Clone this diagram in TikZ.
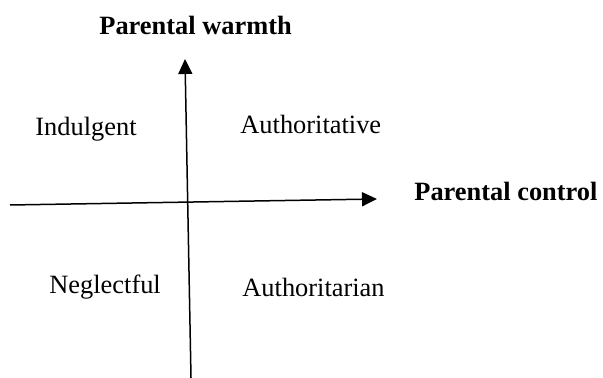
\documentclass[tikz,border=0pt]{standalone}
\usepackage{fontspec}
\setmainfont{Liberation Serif}
\usepackage{tikz}
\usetikzlibrary{arrows.meta,positioning}

\begin{document}
\begin{tikzpicture}[x=0.5pt, y=-0.5pt, every node/.style={font=\fontsize{13.2}{16}\selectfont, inner sep=0pt}, axislabel/.style={anchor=base west, font=\fontsize{13.2}{16}\selectfont\bfseries}, quadrant/.style={anchor=base west}, arrow/.style={-{Triangle[length=7.5pt, width=7pt]}, line width=0.75pt}]
\useasboundingbox (0,0) rectangle (603,378);
\coordinate (cs) at (10,205);
\coordinate (ce) at (377,199);
\coordinate (ws) at (191,378);
\coordinate (we) at (185,59);
\draw[arrow] (cs) -- (ce);
\draw[arrow] (ws) -- (we);
\node[axislabel] (warmth) at (99,35) {Parental warmth};
\node[axislabel] (control) at (414,201) {Parental control};
\node[quadrant] (indulgent) at (35,136) {Indulgent};
\node[quadrant] (authoritative) at (240,134) {Authoritative};
\node[quadrant] (neglectful) at (49,293) {Neglectful};
\node[quadrant] (authoritarian) at (242,297) {Authoritarian};
\end{tikzpicture}
\end{document}
